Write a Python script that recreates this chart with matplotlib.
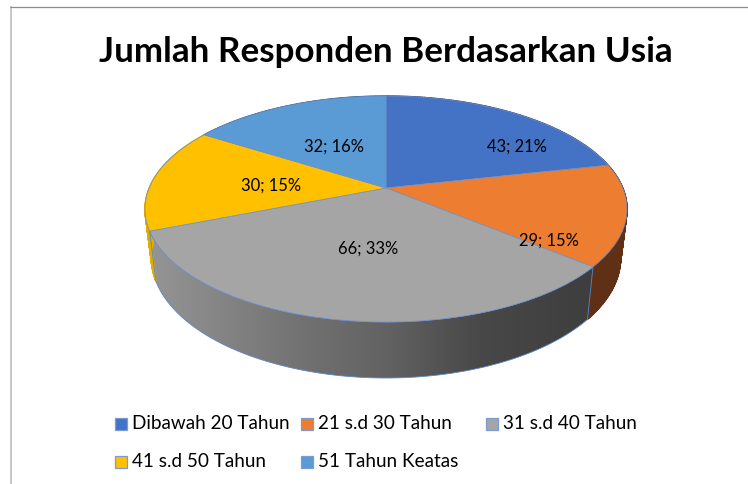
import numpy as np
import matplotlib
matplotlib.use("Agg")
import matplotlib.pyplot as plt
from matplotlib.transforms import Transform
from matplotlib.patches import Polygon, Rectangle
from matplotlib.colors import LinearSegmentedColormap

categories = ["Dibawah 20 Tahun", "21 s.d 30 Tahun", "31 s.d 40 Tahun", "41 s.d 50 Tahun", "51 Tahun Keatas"]
values = [43, 29, 66, 30, 32]
percents = [21, 15, 33, 15, 16]
colors = ["#4472C4", "#ED7D31", "#A5A5A5", "#FFC000", "#5B9BD5"]
wall_colors = ["#2A4478", "#5F3015", None, "#E0AC00", "#37618A"]
title = "Jumlah Responden Berdasarkan Usia"

FONT = "Lato"
W, H = 748, 484
fig = plt.figure(figsize=(W / 100, H / 100), dpi=100, facecolor="white")
ax = fig.add_axes([0, 0, 1, 1])


class Persp(Transform):
    """Projects the unit pie disc onto the tilted 3-D top face (pixel coords)."""
    input_dims = output_dims = 2

    def __init__(self, cy, a, b, k=0.186, cx=386.0):
        super().__init__()
        self.cx, self.cy, self.a, self.b, self.k = cx, cy, a, b, k

    def transform_non_affine(self, pts):
        pts = np.asarray(pts, dtype=float)
        d = 1 + self.k * pts[:, 1]
        return np.column_stack((self.cx + self.a * pts[:, 0] / d,
                                self.cy - self.b * pts[:, 1] / d))


top = Persp(188.0, 236.8, 109.1)
low = Persp(235.5, 230.5, 116.0)

bounds = np.cumsum([0] + values) / sum(values) * 2 * np.pi


def rim(tr, t0, t1):
    t = np.linspace(t0, t1, 120)
    return tr.transform_non_affine(np.column_stack((np.sin(t), np.cos(t))))


# side walls
wall_edge = "#5B86C9"
for i in range(len(values)):
    t_pts = rim(top, bounds[i], bounds[i + 1])
    l_pts = rim(low, bounds[i], bounds[i + 1])
    poly = np.vstack((t_pts, l_pts[::-1]))
    if wall_colors[i] is None:
        patch = Polygon(poly, closed=True, facecolor="none", edgecolor="none", transform=ax.transData)
        ax.add_patch(patch)
        grad = np.linspace(0, 1, 256)[None, :]
        cmap = LinearSegmentedColormap.from_list(
            "wall", [(0.0, "#959595"), (0.34, "#727272"), (0.53, "#636363"), (0.75, "#484848"), (1.0, "#3E3E3E")])
        im = ax.imshow(grad, extent=(150, 592, 380, 220), cmap=cmap, aspect="auto", zorder=1)
        im.set_clip_path(patch)
        ax.add_patch(Polygon(poly, closed=True, facecolor="none", edgecolor=wall_edge, lw=0.6, zorder=1.5))
    else:
        # strips between the rims also fill the silhouette where the wall turns away
        for j in range(len(t_pts) - 1):
            quad = [t_pts[j], t_pts[j + 1], l_pts[j + 1], l_pts[j]]
            ax.add_patch(Polygon(quad, closed=True, facecolor=wall_colors[i], edgecolor=wall_colors[i], lw=1.0, zorder=1))

# top face, via pie wedges through the perspective transform
wedges, _ = ax.pie(values, colors=colors, startangle=90, counterclock=False, radius=1,
                   wedgeprops=dict(edgecolor="#6F8FC9", linewidth=0.5))
for w in wedges:
    w.set_transform(top + ax.transData)
    w.set_zorder(2)
    w.set_clip_on(False)

ax.set_aspect("auto")
ax.set_xlim(0, W)
ax.set_ylim(H, 0)
ax.axis("off")

# data labels
label_xy = [(517, 147), (549, 241), (368, 249), (271, 186), (334, 147)]
for (x, y), v, p in zip(label_xy, values, percents):
    ax.text(x, y, f"{v}; {p}%", ha="center", va="center", fontsize=11.9, family=FONT, color="black", zorder=5)

ax.text(386, 52, title, ha="center", va="center", fontsize=25.2, fontweight="bold", family=FONT, color="black", zorder=5)

# legend
leg_xy = [(115, 424), (301, 424), (486, 424), (115, 462), (301, 462)]
for (x, y), c, name in zip(leg_xy, colors, categories):
    ax.add_patch(Rectangle((x, y - 6), 12, 12, facecolor=c, edgecolor="#7C9BD6", lw=0.9, zorder=5))
    ax.text(x + 17, y - 0.5, name, ha="left", va="center", fontsize=13.6, family=FONT, color="black", zorder=5)

# chart frame
ax.plot([11, 11], [H, 6], color="#C4C4C4", lw=1.3, zorder=6, solid_capstyle="butt")
ax.plot([10, W], [6.5, 6.5], color="#8C8C8C", lw=0.9, zorder=6, solid_capstyle="butt")

fig.savefig("out.png", dpi=100, facecolor="white")
